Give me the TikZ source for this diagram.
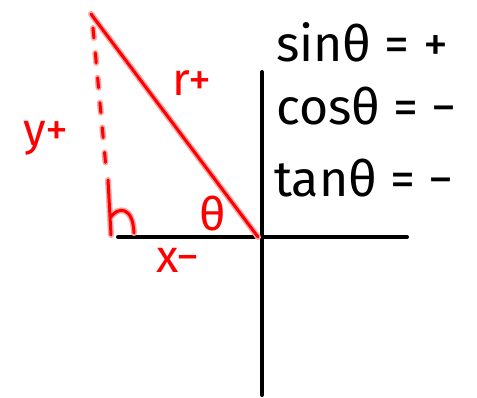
\documentclass[tikz,border=0pt]{standalone}
\usepackage{fontspec}
\setmainfont{Fira Sans}
\begin{document}
\begin{tikzpicture}[x=1pt,y=-1pt,
  axis/.style={line width=4pt,black,line cap=round},
  redline/.style={line width=3pt,red,line cap=round},
  redglow/.style={line width=6pt,red!35,line cap=round},
  redlbl/.style={text=red,font=\fontsize{46}{46}\selectfont,inner sep=0pt},
  eqlbl/.style={text=black,font=\fontsize{50}{50}\selectfont,inner sep=0pt,anchor=base west}]
\useasboundingbox (0,0) rectangle (477,398);
% axes
\coordinate (vt) at (262,72);
\coordinate (vb) at (262,395);
\coordinate (hl) at (118,237);
\coordinate (hr) at (407,237);
\draw[axis] (vt) -- (vb);
\draw[axis] (hl) -- (hr);
% triangle
\coordinate (top) at (91,14);
\coordinate (org) at (258,237);
\coordinate (dtop) at (93,28);
\coordinate (dbot) at (106,168);
\draw[redglow] (top) -- (org);
\draw[redline] (top) -- (org);
\draw[redglow,dash pattern=on 10pt off 15pt] (dtop) -- (dbot);
\draw[redline,dash pattern=on 10pt off 15pt] (dtop) -- (dbot);
% right angle mark as "h"
\draw[redglow] (108,180) -- (111,235) (110,218) .. controls (118,206) and (133,206) .. (134,233);
\draw[redline] (108,180) -- (111,235) (110,218) .. controls (118,206) and (133,206) .. (134,233);
% labels
\node[redlbl] (r) at (192,83) {r+};
\node[redlbl] (y) at (46,138) {y+};
\node[redlbl] (x) at (178,260) {x−};
\node[redlbl] (th) at (213,214) {θ};
% equations
\node[eqlbl] (sin) at (276,62) {sinθ = +};
\node[eqlbl] (cos) at (276,125) {cosθ = −};
\node[eqlbl] (tan) at (274,197) {tanθ = −};
\end{tikzpicture}
\end{document}
